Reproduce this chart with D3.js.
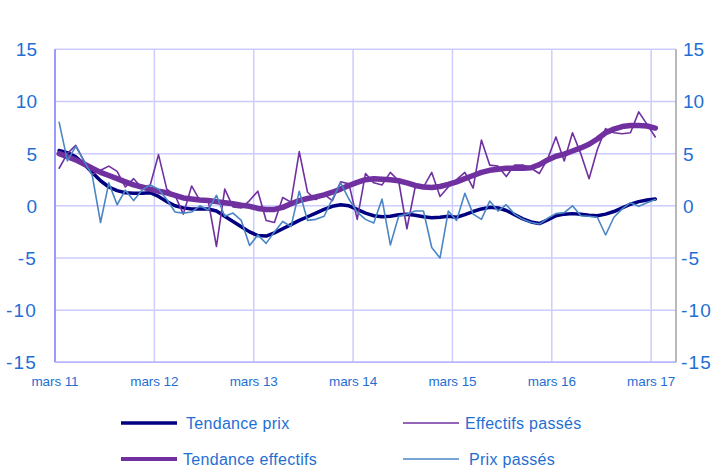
<!DOCTYPE html>
<html><head><meta charset="utf-8">
<script src="https://cdn.jsdelivr.net/npm/d3@7"></script>
<style>body{margin:0;background:#fff}svg{display:block}text{font-family:"Liberation Sans",Arial,sans-serif}</style>
</head><body>
<svg id="c" width="726" height="468"></svg>
<script>
const tickLabels = ["mars 11","mars 12","mars 13","mars 14","mars 15","mars 16","mars 17"];
const yTicks = [-15,-10,-5,0,5,10,15];
const tendancePrix = [5.3,5.1,4.7,4.0,3.2,2.4,1.8,1.45,1.25,1.2,1.2,1.25,0.9,0.4,0.0,-0.2,-0.3,-0.3,-0.3,-0.5,-1.0,-1.5,-2.0,-2.5,-2.85,-2.9,-2.6,-2.2,-1.8,-1.4,-1.05,-0.7,-0.35,-0.05,0.1,0.0,-0.35,-0.7,-0.95,-1.05,-1.0,-0.85,-0.8,-0.9,-1.05,-1.15,-1.1,-1.0,-1.1,-0.85,-0.55,-0.3,-0.15,-0.2,-0.45,-0.85,-1.25,-1.55,-1.7,-1.35,-0.95,-0.8,-0.75,-0.8,-0.9,-0.95,-0.8,-0.55,-0.2,0.15,0.4,0.55,0.65];
const tendanceEffectifs = [5.0,4.7,4.4,4.0,3.6,3.2,2.9,2.6,2.3,2.0,1.8,1.6,1.4,1.25,1.0,0.75,0.65,0.55,0.5,0.4,0.3,0.2,0.05,-0.05,-0.25,-0.35,-0.35,-0.15,0.2,0.5,0.7,0.85,1.05,1.3,1.6,1.95,2.25,2.5,2.6,2.55,2.5,2.4,2.2,1.95,1.8,1.75,1.85,2.05,2.3,2.6,2.9,3.2,3.4,3.5,3.6,3.6,3.6,3.65,3.95,4.4,4.75,4.95,5.25,5.55,5.9,6.4,7.0,7.35,7.6,7.7,7.7,7.65,7.45];
const effectifsPasses = [3.6,5.0,5.8,4.3,3.0,3.4,3.8,3.3,1.8,2.6,1.7,2.0,4.9,1.6,1.0,-0.8,1.9,0.5,0.5,-3.9,1.6,-0.1,-0.2,0.5,1.4,-1.4,-1.6,0.8,0.35,5.2,1.3,0.6,1.1,0.5,2.3,2.1,-1.3,3.1,2.2,2.0,3.2,2.4,-2.2,1.8,1.8,3.2,0.9,1.8,2.5,3.2,1.7,6.3,3.9,3.8,2.8,3.9,3.9,3.6,3.1,4.5,6.6,4.3,7.0,5.0,2.6,5.4,7.4,7.0,6.9,7.0,9.0,7.8,6.6];
const prixPasses = [8.0,4.3,5.7,4.3,2.9,-1.6,2.2,0.1,1.5,0.5,1.5,2.0,1.6,0.6,-0.6,-0.7,-0.6,0.0,-0.4,1.0,-1.0,-0.7,-1.4,-3.8,-2.8,-3.6,-2.5,-1.5,-2.0,1.4,-1.4,-1.3,-1.0,0.65,2.2,0.65,-0.6,-1.3,-1.65,0.65,-3.75,-1.0,-0.8,-0.5,-0.5,-4.0,-5.0,-0.5,-1.4,1.2,-0.8,-1.3,0.45,-0.5,0.1,-0.8,-1.3,-1.6,-1.75,-1.2,-0.75,-0.65,0.0,-0.95,-1.0,-1.1,-2.8,-1.1,-0.3,0.3,-0.05,0.3,0.6];

const svg = d3.select("#c");
const L = 55, R = 676, T = 49.3, B = 362.3;
const x = d3.scaleLinear().domain([0,75]).range([L,R]);
const y = d3.scaleLinear().domain([-15,15]).range([B,T]);
const txt = "#1f6fd3";

svg.append("g").selectAll("line").data(yTicks).join("line")
  .attr("x1",L).attr("x2",R).attr("y1",d=>y(d)).attr("y2",d=>y(d))
  .attr("stroke","#ccccff").attr("stroke-width",1.5);
svg.append("g").selectAll("line").data(tickLabels).join("line")
  .attr("x1",(d,i)=>x(i*12)).attr("x2",(d,i)=>x(i*12)).attr("y1",T).attr("y2",B)
  .attr("stroke","#ccccff").attr("stroke-width",1.5);
svg.append("line").attr("x1",L).attr("x2",L).attr("y1",T).attr("y2",B).attr("stroke","#9999ff").attr("stroke-width",2);
svg.append("line").attr("x1",L).attr("x2",R).attr("y1",B).attr("y2",B).attr("stroke","#b3b3ff").attr("stroke-width",1.5);
svg.append("line").attr("x1",R).attr("x2",R).attr("y1",T).attr("y2",B).attr("stroke","#a0a0a0").attr("stroke-width",1.5);

svg.append("g").selectAll("text").data(yTicks).join("text")
  .attr("x",37).attr("y",d=>y(d)+7).attr("text-anchor","end")
  .attr("font-size",19).attr("letter-spacing",d=>d<0?1.2:0).attr("fill",txt).text(d=>d);
svg.append("g").selectAll("text").data(yTicks).join("text")
  .attr("x",d=>d<0?681:683).attr("y",d=>y(d)+7).attr("text-anchor","start")
  .attr("font-size",19).attr("letter-spacing",d=>d<0?1.2:0).attr("fill",txt).text(d=>d);
svg.append("g").selectAll("text").data(tickLabels).join("text")
  .attr("x",(d,i)=>x(i*12)).attr("y",386).attr("text-anchor","middle")
  .attr("font-size",13.5).attr("letter-spacing",-0.1).attr("fill",txt).text(d=>d);

const line = d3.line().x((d,i)=>x(i+0.5)).y(d=>y(d));
const series = [
  {name:"Tendance prix", data:tendancePrix, color:"#000080", w:3.5},
  {name:"Effectifs passés", data:effectifsPasses, color:"#7030a0", w:1.6},
  {name:"Tendance effectifs", data:tendanceEffectifs, color:"#7030a0", w:5.5},
  {name:"Prix passés", data:prixPasses, color:"#4a86c4", w:1.6}
];
series.forEach(s=>{
  svg.append("path").datum(s.data).attr("d",line).attr("fill","none")
    .attr("stroke",s.color).attr("stroke-width",s.w)
    .attr("stroke-linejoin","round").attr("stroke-linecap","round");
});

const leg = [
  {s:series[0], lx:121, ly:423, tx:186},
  {s:series[1], lx:403, ly:423, tx:465},
  {s:series[2], lx:121, ly:459, tx:183},
  {s:series[3], lx:403, ly:459, tx:469}
];
leg.forEach(l=>{
  svg.append("line").attr("x1",l.lx).attr("x2",l.lx+56).attr("y1",l.ly).attr("y2",l.ly)
    .attr("stroke",l.s.color).attr("stroke-width",Math.min(l.s.w,4));
  svg.append("text").attr("x",l.tx).attr("y",l.ly+5.5).attr("font-size",16)
    .attr("letter-spacing",0.3).attr("fill",txt).text(l.s.name);
});
</script>
</body></html>
